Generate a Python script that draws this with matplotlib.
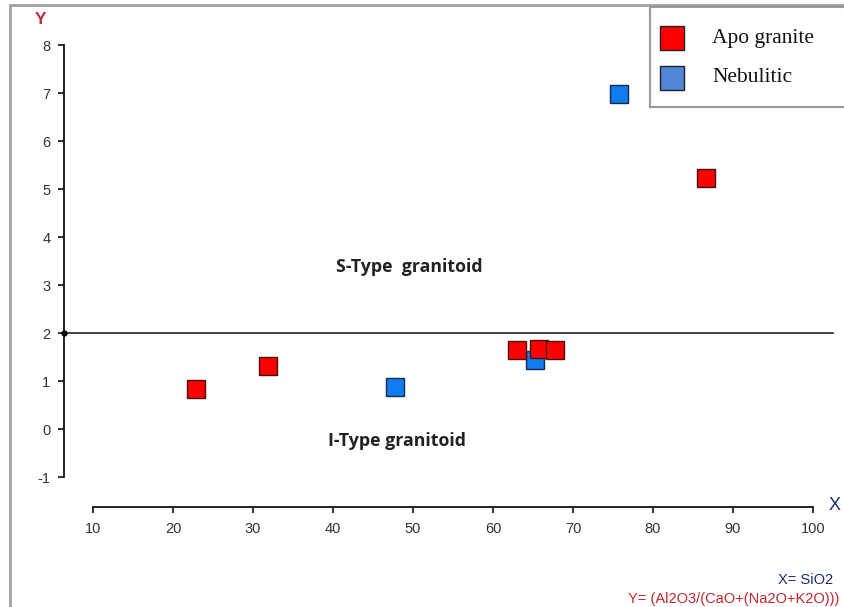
import matplotlib.pyplot as plt
from matplotlib.patches import Rectangle

plt.rcParams["font.family"] = ["Liberation Sans", "DejaVu Sans"]
plt.rcParams["axes.unicode_minus"] = False

# SiO2 vs Al2O3/(CaO+(Na2O+K2O))
apo_x = [22.9, 31.9, 63.0, 65.75, 67.75, 86.6]
apo_y = [0.83, 1.31, 1.65, 1.67, 1.65, 5.23]
neb_x = [47.75, 65.25, 75.75]
neb_y = [0.87, 1.44, 6.98]

series_names = ["Apo granite", "Nebulitic"]
legend_colors = ["#ff0000", "#4f86d6"]

x_ticks = [10, 20, 30, 40, 50, 60, 70, 80, 90, 100]
y_ticks = [-1, 0, 1, 2, 3, 4, 5, 6, 7, 8]
boundary = 2

W, H = 844, 607
fig = plt.figure(figsize=(W / 100, H / 100), dpi=100)
ax = fig.add_axes([0, 0, 1, 1])
ax.patch.set_alpha(0)
ax.set_xlim(-1.625, 103.875)
ax.set_ylim(-3.708, 8.9375)

# detached axes like the original software output
for s in ("top", "right"):
    ax.spines[s].set_visible(False)
ax.spines["left"].set_position(("data", 6.4))
ax.spines["left"].set_bounds(-1, 8)
ax.spines["bottom"].set_position(("data", -1.625))
ax.spines["bottom"].set_bounds(10, 100)
for s in ("left", "bottom"):
    ax.spines[s].set_linewidth(1.3)
    ax.spines[s].set_color("#111111")

ax.set_xticks(x_ticks)
ax.set_yticks(y_ticks)
ax.tick_params(length=4, width=1.2, color="#111111", labelsize=10.5,
               labelcolor="#333333")
ax.tick_params(axis="x", pad=7)
ax.tick_params(axis="y", pad=6)

# S/I boundary
ax.plot([6.4, 102.5], [boundary, boundary], color="#222222", lw=1.2)
ax.plot([6.4], [boundary], marker="o", ms=3.5, color="black", clip_on=False)

ax.plot(apo_x, apo_y, ls="none", marker="s", ms=13, mfc="#ff0000",
        mec="#4a1010", mew=1.0, zorder=3)
ax.plot(neb_x, neb_y, ls="none", marker="s", ms=13, mfc="#0f7cf0",
        mec="#1a2a4a", mew=1.0, zorder=2)

ax.text(49.5, 3.37, "S-Type  granitoid", ha="center", va="center",
        fontsize=12.8, fontweight="bold", family="Open Sans", color="#222222")
ax.text(48.0, -0.24, "I-Type granitoid", ha="center", va="center",
        fontsize=12.8, fontweight="bold", family="Open Sans", color="#222222")

# outer frame
fig.patches.append(Rectangle((10 / W, -0.1), 1.2, 1 - 5 / H + 0.1,
                             transform=fig.transFigure, fill=False,
                             edgecolor="#a0a0a0", lw=2))

# legend box, running off the right edge
fig.patches.append(Rectangle((650 / W, 1 - 107 / H), 0.3, 100 / H,
                             transform=fig.transFigure, facecolor="white",
                             edgecolor="#999999", lw=1.5, zorder=5))
for i, (name, col) in enumerate(zip(series_names, legend_colors)):
    ypix = 38 + 40 * i
    fig.lines.append(plt.Line2D([672 / W], [1 - ypix / H], ls="none",
                                marker="s", ms=17, mfc=col, mec="#222222",
                                mew=1.0, transform=fig.transFigure, zorder=6))
    fig.text(712 / W, 1 - ypix / H, name, family="Liberation Serif",
             fontsize=15.5, color="#111111", ha="left", va="center", zorder=6)

fig.text(41 / W, 1 - 20 / H, "Y", color="#b8303a", fontsize=12.5,
         fontweight="bold", ha="center", va="center")
fig.text(835 / W, 1 - 506 / H, "X", color="#1c2a6a", fontsize=13,
         ha="center", va="center")
fig.text(833 / W, 1 - 580 / H, "X= SiO2", color="#1c2a6a", fontsize=10.5,
         ha="right", va="center")
fig.text(839 / W, 1 - 599 / H, "Y= (Al2O3/(CaO+(Na2O+K2O)))",
         color="#c0282d", fontsize=10.5, ha="right", va="center")

fig.savefig("out.png", dpi=100)
